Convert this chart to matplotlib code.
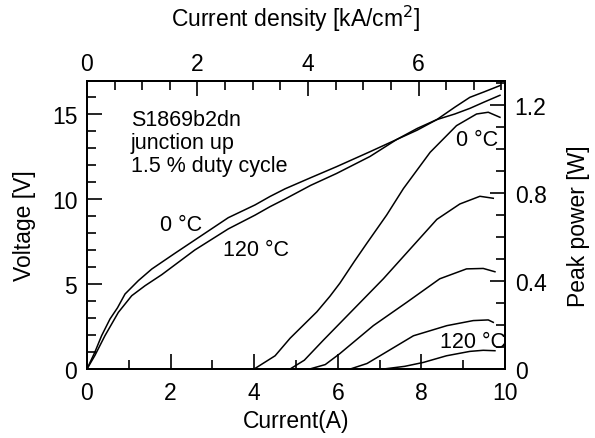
import numpy as np
import matplotlib
matplotlib.use("Agg")
import matplotlib.pyplot as plt
from matplotlib.ticker import MultipleLocator, FixedLocator

plt.rcParams['font.family'] = ['Liberation Sans', 'DejaVu Sans']

# voltage curves, current in A, voltage in V
i_v0 = [0, 0.19, 0.35, 0.55, 0.73, 0.91, 1.23, 1.55, 2.1, 2.74, 3.38, 4.02, 4.38, 4.74,
        5.35, 5.97, 6.77, 7.41, 7.9, 8.37, 8.8, 9.16, 9.5, 9.88]
v_0 = [0, 1.0, 1.96, 2.94, 3.6, 4.41, 5.2, 5.88, 6.8, 7.85, 8.9, 9.65, 10.15, 10.6,
       11.25, 11.9, 12.78, 13.5, 14.05, 14.67, 15.0, 15.33, 15.7, 16.1]
i_v120 = [0, 0.19, 0.43, 0.75, 1.07, 1.39, 1.79, 2.58, 3.38, 4.02, 4.38, 4.74,
          5.35, 5.97, 6.77, 7.41, 7.9, 8.37, 8.8, 9.16, 9.5, 9.88]
v_120 = [0, 0.8, 1.96, 3.33, 4.31, 4.9, 5.55, 7.0, 8.24, 9.05, 9.55, 10.0,
         10.8, 11.5, 12.5, 13.5, 14.15, 14.67, 15.4, 15.98, 16.3, 16.67]

# peak power curves, current in A, power in W (0 C ... 120 C)
i_p1 = [2.2, 4.0, 4.5, 4.86, 5.5, 5.81, 6.05, 6.4, 6.69, 7.17, 7.57, 8.21, 8.84, 9.32, 9.6, 9.88]
p_1 = [0, 0, 0.06, 0.14, 0.26, 0.33, 0.39, 0.49, 0.57, 0.7, 0.82, 0.985, 1.106, 1.159, 1.167, 1.144]
i_p2 = [4.86, 5.2, 5.65, 6.37, 7.09, 7.73, 8.37, 8.92, 9.4, 9.72]
p_2 = [0, 0.04, 0.13, 0.27, 0.41, 0.545, 0.68, 0.75, 0.785, 0.776]
i_p3 = [5.33, 5.7, 6.05, 6.85, 7.65, 8.44, 9.08, 9.48, 9.76]
p_3 = [0, 0.02, 0.07, 0.197, 0.303, 0.41, 0.455, 0.457, 0.442]
i_p4 = [6.3, 6.7, 7.01, 7.81, 8.61, 9.24, 9.6, 9.72]
p_4 = [0, 0.025, 0.06, 0.151, 0.197, 0.22, 0.223, 0.212]
i_p5 = [7.1, 7.6, 8.05, 8.6, 9.16, 9.48, 9.76]
p_5 = [0, 0.012, 0.03, 0.06, 0.08, 0.085, 0.083]

density_ticks = [0, 2, 4, 6]
power_ticks = [0, 0.4, 0.8, 1.2]
k_density = 0.7565  # kA/cm^2 per A

fig = plt.figure(figsize=(5.95, 4.39), dpi=100)
ax = fig.add_axes([0.1462, 0.1572, 0.7025, 0.656])
ax2 = ax.twinx()

lw = 1.1
ax.plot(i_v0, v_0, color='black', lw=lw)
ax.plot(i_v120, v_120, color='black', lw=lw)
for xi, yi in [(i_p1, p_1), (i_p2, p_2), (i_p3, p_3), (i_p4, p_4), (i_p5, p_5)]:
    ax2.plot(xi, yi, color='black', lw=lw)

ax.set_xlim(0, 10)
ax.set_ylim(0, 16.94)
ax2.set_ylim(0, 1.309)

ax.xaxis.set_major_locator(MultipleLocator(2))
ax.xaxis.set_minor_locator(MultipleLocator(1))
ax.yaxis.set_major_locator(MultipleLocator(5))
ax.yaxis.set_minor_locator(MultipleLocator(1))
ax2.set_yticks(power_ticks)
ax2.set_yticklabels([f'{t:g}' for t in power_ticks])
ax2.yaxis.set_minor_locator(MultipleLocator(0.1))

top = ax.secondary_xaxis('top', functions=(lambda x: x * k_density, lambda x: x / k_density))
top.xaxis.set_major_locator(FixedLocator(density_ticks))
top.xaxis.set_minor_locator(FixedLocator(np.arange(0, 7.6, 0.5)))

fs = 16.5
for a in (ax, ax2):
    for s in a.spines.values():
        s.set_linewidth(1.4)
for a in (ax, ax2, top):
    a.tick_params(which='both', direction='in', width=1.2, labelsize=fs)
    a.tick_params(which='major', length=11)
    a.tick_params(which='minor', length=6.5)
ax.tick_params(axis='x', pad=9)
ax.tick_params(axis='y', pad=7)
ax2.tick_params(axis='y', pad=7)
top.tick_params(axis='x', pad=4)
top.spines['top'].set_linewidth(1.4)

ax.set_xlabel('Current(A)', fontsize=fs, labelpad=3)
ax.set_ylabel('Voltage [V]', fontsize=fs, labelpad=11)
ax2.set_ylabel('Peak power [W]', fontsize=fs, labelpad=15)
top.set_xlabel('Current density [kA/cm$^2$]', fontsize=fs, labelpad=19)

ts = 15.5
ax.text(1.05, 15.3, 'S1869b2dn\njunction up\n1.5 % duty cycle', fontsize=ts,
        va='top', ha='left', linespacing=1.12)
ax.text(2.25, 8.5, '0 °C', fontsize=ts, ha='center', va='center')
ax.text(4.05, 7.0, '120 °C', fontsize=ts, ha='center', va='center')
ax2.text(9.33, 1.045, '0 °C', fontsize=ts, ha='center', va='center')
ax2.text(9.23, 0.125, '120 °C', fontsize=ts, ha='center', va='center')

fig.savefig('out.png', dpi=100)
